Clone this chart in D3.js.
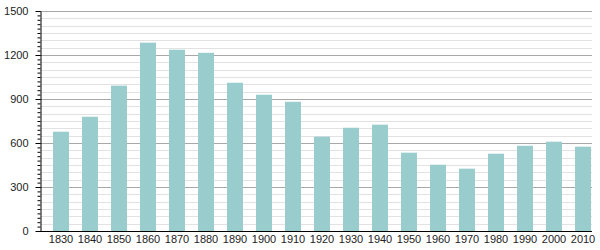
<!DOCTYPE html>
<html>
  <head>
    <script src="https://cdn.jsdelivr.net/npm/d3@7"></script>
    <style>
      body { margin: 0; background: #fff; }
      text { font-family: "Liberation Sans", Arial, sans-serif; font-size: 11px; fill: #222; }
    </style>
  </head>
  <body>
    <div id="chart"></div>

    <script>
      // ========= Data ========= //
      const years = [1830, 1840, 1850, 1860, 1870, 1880, 1890, 1900, 1910, 1920,
                     1930, 1940, 1950, 1960, 1970, 1980, 1990, 2000, 2010];
      const population = [677, 779, 991, 1284, 1236, 1215, 1011, 929, 881, 643,
                          704, 725, 534, 452, 425, 527, 581, 609, 575];
      const yTicks = [0, 300, 600, 900, 1200, 1500];

      // ========= Setup dimensions ========= //
      const width = 600;
      const height = 250;
      const plotLeft = 40;
      const plotRight = 592;
      const plotTop = 11;
      const plotBottom = 231;

      const svg = d3.select('#chart').append('svg')
        .attr('width', width)
        .attr('height', height);

      // ========= Scales ========= //
      const x = d3.scaleBand()
        .domain(years)
        .range([46.5, 597.5])
        .paddingInner(0.45)
        .paddingOuter(0.225);

      const y = d3.scaleLinear()
        .domain([0, 1500])
        .range([plotBottom, plotTop]);

      // ========= Gridlines ========= //
      svg.append('g')
        .selectAll('line')
        .data(d3.range(50, 1501, 50).filter(d => d % 300 !== 0))
        .join('line')
          .attr('x1', plotLeft).attr('x2', plotRight)
          .attr('y1', d => Math.round(y(d)) + 0.5)
          .attr('y2', d => Math.round(y(d)) + 0.5)
          .attr('stroke', '#e2e2e2');

      svg.append('g')
        .selectAll('line')
        .data(yTicks.slice(1))
        .join('line')
          .attr('x1', plotLeft).attr('x2', plotRight)
          .attr('y1', d => Math.round(y(d)) + 0.5)
          .attr('y2', d => Math.round(y(d)) + 0.5)
          .attr('stroke', '#a8a8a8');

      // ========= Bars ========= //
      svg.append('g')
        .selectAll('rect')
        .data(years)
        .join('rect')
          .attr('x', d => x(d))
          .attr('width', x.bandwidth())
          .attr('y', (d, i) => y(population[i]))
          .attr('height', (d, i) => plotBottom - y(population[i]))
          .attr('fill', '#99cccc');

      // ========= Axes ========= //
      const yMinor = svg.append('g')
        .attr('transform', `translate(${plotLeft + 0.5},0)`)
        .call(d3.axisLeft(y).tickValues(d3.range(0, 1501, 30)).tickSize(3).tickFormat(''));
      yMinor.select('.domain').remove();

      const yAxis = svg.append('g')
        .attr('transform', `translate(${plotLeft + 0.5},0)`)
        .call(d3.axisLeft(y).tickValues(yTicks).tickSize(5).tickPadding(7)
          .tickSizeOuter(0).tickFormat(d3.format('d')));
      yAxis.select('.domain').attr('stroke', '#000');
      yAxis.selectAll('text').style('font-size', '11px');

      svg.append('line')
        .attr('x1', plotLeft).attr('x2', plotRight)
        .attr('y1', plotBottom + 0.5).attr('y2', plotBottom + 0.5)
        .attr('stroke', '#000');

      const xAxis = svg.append('g')
        .attr('transform', `translate(0,${plotBottom})`)
        .call(d3.axisBottom(x).tickSize(0).tickPadding(4));
      xAxis.select('.domain').remove();
    </script>
  </body>
</html>
